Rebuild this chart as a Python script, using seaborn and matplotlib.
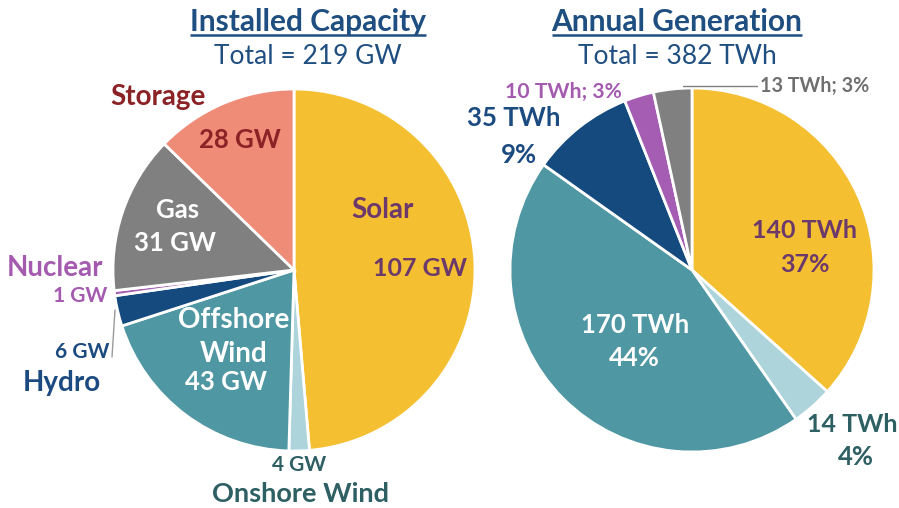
import matplotlib
matplotlib.use("Agg")
import matplotlib.pyplot as plt
import seaborn as sns

sns.set_theme(style="white")
plt.rcParams["font.family"] = ["Lato", "DejaVu Sans"]

# Data
sources = ["Solar", "Onshore Wind", "Offshore Wind", "Hydro", "Nuclear", "Gas", "Storage"]
capacity_gw = [107, 4, 43, 6, 1, 31, 28]
gen_sources = ["Solar", "Onshore Wind", "Offshore Wind", "Hydro", "Nuclear", "Gas"]
generation_twh = [140, 14, 170, 35, 10, 13]
generation_pct = [37, 4, 44, 9, 3, 3]
capacity_total = 219
generation_total = 382

colors = {
    "Solar": "#F5BF32",
    "Onshore Wind": "#ADD3DB",
    "Offshore Wind": "#4F97A2",
    "Hydro": "#154A7F",
    "Nuclear": "#A55DB3",
    "Gas": "#808080",
    "Storage": "#EF8C78",
}

W, H = 899, 508
fig = plt.figure(figsize=(W / 100, H / 100), dpi=100)
ax = fig.add_axes([0, 0, 1, 1])

def Y(y):
    return H - y

wedge_style = dict(edgecolor="white", linewidth=2)

ax.pie(capacity_gw, colors=[colors[s] for s in sources], startangle=90,
       counterclock=False, center=(294, Y(270)), radius=181,
       wedgeprops=wedge_style, frame=True)
ax.pie(generation_twh, colors=[colors[s] for s in gen_sources], startangle=90,
       counterclock=False, center=(692, Y(270)), radius=182,
       wedgeprops=wedge_style, frame=True)
ax.set_xlim(0, W)
ax.set_ylim(0, H)
ax.set_aspect("equal")
ax.axis("off")

TITLE = "#1F4E80"

def txt(x, y, s, color, size=18.5, weight="bold", **kw):
    return ax.text(x, Y(y), s, color=color, fontsize=size, fontweight=weight,
                   ha="center", va="center", **kw)

# Titles
t1 = txt(308, 22, "Installed Capacity", TITLE, size=21.5)
txt(308, 57, f"Total = {capacity_total} GW", TITLE, size=19, weight="normal")
t2 = txt(677, 22, "Annual Generation", TITLE, size=21.5)
txt(677, 57, f"Total = {generation_total} TWh", TITLE, size=19, weight="normal")

fig.canvas.draw()
renderer = fig.canvas.get_renderer()
inv = ax.transData.inverted()
for t in (t1, t2):
    bb = t.get_window_extent(renderer)
    (x0, y0), (x1, _) = inv.transform([(bb.x0, bb.y0), (bb.x1, bb.y1)])
    ax.plot([x0, x1], [y0 + 1, y0 + 1], color=TITLE, lw=1.8, solid_capstyle="butt")

cap = dict(zip(sources, capacity_gw))
# Installed capacity labels
txt(158, 97, "Storage", "#8B2326", size=20)
txt(240, 140, f"{cap['Storage']} GW", "#8B2326", size=18.5)
txt(178, 210, "Gas", "white", size=18.5)
txt(175, 243, f"{cap['Gas']} GW", "white", size=18.5)
txt(383, 210, "Solar", "#6B3A6B", size=20)
txt(420, 268, f"{cap['Solar']} GW", "#6B3A6B", size=18)
txt(55, 268, "Nuclear", "#A35AAF", size=20)
txt(80, 296, f"{cap['Nuclear']} GW", "#A35AAF", size=15)
txt(234, 320, "Offshore", "white", size=20)
txt(234, 354, "Wind", "white", size=20)
txt(226, 382, f"{cap['Offshore Wind']} GW", "white", size=18.5)
txt(82, 352, f"{cap['Hydro']} GW", "#1B4B80", size=15)
txt(62, 383, "Hydro", "#1B4B80", size=20)
txt(299, 465, f"{cap['Onshore Wind']} GW", "#2D5F63", size=15)
txt(300, 494, "Onshore Wind", "#2D5F63", size=19.5)
ax.plot([115, 112], [Y(310), Y(357)], color="#9A9A9A", lw=1)

gen = dict(zip(gen_sources, zip(generation_twh, generation_pct)))
# Annual generation labels
v, p = gen["Nuclear"]
txt(563, 92, f"{v} TWh; {p}%", "#A35AAF", size=15.2)
v, p = gen["Hydro"]
txt(514, 118, f"{v} TWh", "#1B4B80", size=18.5)
txt(519, 155, f"{p}%", "#1B4B80", size=18.5)
v, p = gen["Gas"]
txt(815, 86, f"{v} TWh; {p}%", "#6F6F6F", size=14.2)
ax.plot([683, 757], [Y(86), Y(86)], color="#808080", lw=1)
v, p = gen["Solar"]
txt(805, 230, f"{v} TWh", "#6B3A6B", size=18)
txt(805, 265, f"{p}%", "#6B3A6B", size=18)
v, p = gen["Offshore Wind"]
txt(635, 325, f"{v} TWh", "white", size=18.5)
txt(634, 358, f"{p}%", "white", size=18.5)
v, p = gen["Onshore Wind"]
txt(852, 424, f"{v} TWh", "#2D5F63", size=18)
txt(856, 457, f"{p}%", "#2D5F63", size=18.5)

fig.savefig("out.png", dpi=100)
